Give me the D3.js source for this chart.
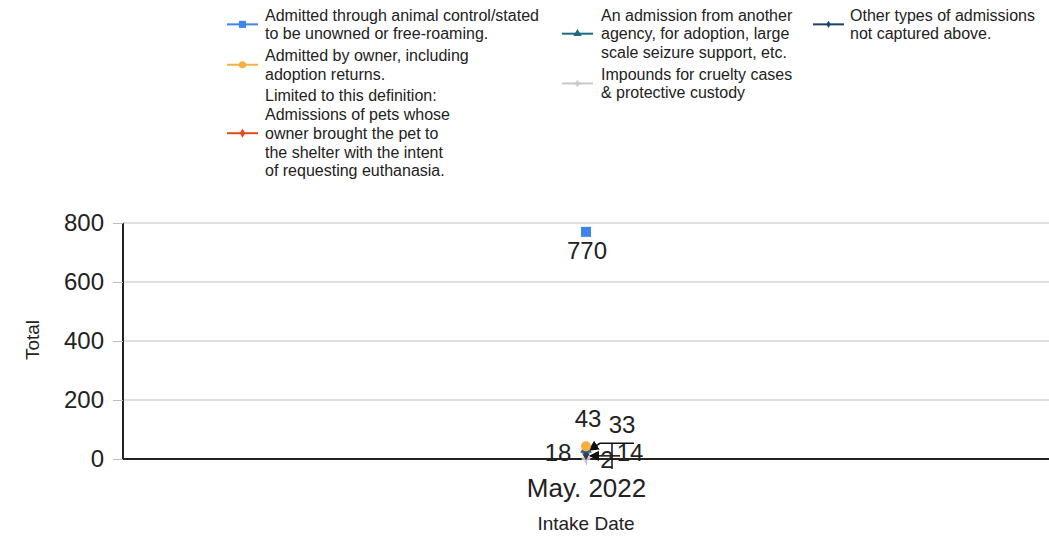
<!DOCTYPE html>
<html>
<head>
<meta charset="utf-8">
<script src="https://cdn.jsdelivr.net/npm/d3@7"></script>
<style>
  body { margin: 0; background: #fff; }
  text { font-family: "Liberation Sans", Arial, sans-serif; fill: #222; }
</style>
</head>
<body>
<div id="chart"></div>
<script>
// data
var categories = ["May. 2022"];
var seriesNames = [
  ["Admitted through animal control/stated", "to be unowned or free-roaming."],
  ["Admitted by owner, including", "adoption returns."],
  ["Limited to this definition:", "Admissions of pets whose", "owner brought the pet to", "the shelter with the intent", "of requesting euthanasia."],
  ["An admission from another", "agency, for adoption, large", "scale seizure support, etc."],
  ["Impounds for cruelty cases", "& protective custody"],
  ["Other types of admissions", "not captured above."]
];
var seriesValues = [770, 43, 18, 33, 2, 14];
var yTicks = [0, 200, 400, 600, 800];

// styles
var colors = ["#3d85e6", "#f5b040", "#e8461c", "#1a6a80", "#c8c8c8", "#1c3f6e"];
var symbols = [d3.symbolSquare, d3.symbolCircle, d3.symbolDiamond, d3.symbolTriangle, d3.symbolCross, d3.symbolDiamond];
var symSizes = [100, 80, 50, 60, 40, 30];
// label offsets from the point (dx, dy)
var labelOff = [[1, 19], [2, -28], [-28, -1], [36, -25], [21, 1], [44, -2]];
var legendCols = [[0, 1, 2], [3, 4], [5]];
var legendX = [[227, 265], [562, 601], [813, 850]];

var width = 1049, height = 541;
var svg = d3.select("#chart").append("svg")
    .attr("width", width)
    .attr("height", height);

var x = d3.scalePoint().domain(categories).range([123, 1049]).padding(0.5);
var y = d3.scaleLinear().domain([0, 800]).range([459, 223]);

// grid
svg.append("g").selectAll("line")
  .data(yTicks.slice(1))
  .enter().append("line")
    .attr("x1", 123).attr("x2", width)
    .attr("y1", function(d) { return y(d) }).attr("y2", function(d) { return y(d) })
    .attr("stroke", "#e0e0e0").attr("stroke-width", 2);

// y axis
var yAxis = svg.append("g")
    .attr("transform", "translate(123,0)")
    .call(d3.axisLeft(y).tickValues(yTicks).tickSize(10).tickPadding(9));
yAxis.select(".domain").attr("stroke", "#222").attr("stroke-width", 2).attr("d", "M0," + y(800) + "V" + y(0));
yAxis.selectAll(".tick line").attr("stroke", "#bbb");
yAxis.selectAll(".tick text").style("font-size", "24px").attr("fill", "#222")
    .style("font-family", "'Liberation Sans', Arial, sans-serif");

// x axis
var xAxis = svg.append("g")
    .attr("transform", "translate(0," + y(0) + ")")
    .call(d3.axisBottom(x).tickSize(6).tickPadding(14));
xAxis.select(".domain").attr("stroke", "#222").attr("stroke-width", 2).attr("d", "M123,0H" + width);
xAxis.selectAll(".tick line").attr("stroke", "#bbb");
xAxis.selectAll(".tick text").style("font-size", "26px").attr("fill", "#222")
    .style("font-family", "'Liberation Sans', Arial, sans-serif");

// axis titles
svg.append("text")
    .attr("transform", "translate(39,340) rotate(-90)")
    .attr("text-anchor", "middle")
    .style("font-size", "19px")
    .text("Total");
svg.append("text")
    .attr("x", x(categories[0])).attr("y", 530)
    .attr("text-anchor", "middle")
    .style("font-size", "19px")
    .text("Intake Date");

// leader lines for the crowded labels
svg.append("defs").append("marker")
    .attr("id", "arr").attr("viewBox", "0 0 10 10")
    .attr("refX", 9).attr("refY", 5)
    .attr("markerWidth", 7).attr("markerHeight", 7)
    .attr("orient", "auto")
  .append("path").attr("d", "M0,0L10,5L0,10z").attr("fill", "#111");

var cx = x(categories[0]);
var leaders = [
  [[cx + 48, y(33) - 6], [cx + 14, y(33) - 6], [cx + 3, y(33) + 1]],
  [[cx + 26, y(33) - 6], [cx + 26, y(0) + 10]],
  [[cx + 34, y(14) + 1], [cx + 4, y(14) + 1]]
];
svg.append("g").selectAll("path")
  .data(leaders)
  .enter().append("path")
    .attr("d", function(d) { return d3.line()(d) })
    .attr("fill", "none").attr("stroke", "#111").attr("stroke-width", 1.5)
    .attr("marker-end", function(d, i) { return i === 1 ? null : "url(#arr)" });

// points
var drawOrder = [4, 2, 5, 3, 1, 0];
svg.append("g").selectAll("path")
  .data(drawOrder)
  .enter().append("path")
    .attr("transform", function(i) { return "translate(" + cx + "," + y(seriesValues[i]) + ")" })
    .attr("d", function(i) { return d3.symbol().type(symbols[i]).size(symSizes[i])() })
    .attr("fill", function(i) { return colors[i] });

// value labels
svg.append("g").selectAll("text")
  .data(seriesValues)
  .enter().append("text")
    .attr("x", function(d, i) { return cx + labelOff[i][0] })
    .attr("y", function(d, i) { return y(d) + labelOff[i][1] })
    .attr("dy", "0.35em")
    .attr("text-anchor", "middle")
    .style("font-size", "24px")
    .text(function(d) { return d });

// legend
var lineH = 18.7;
legendCols.forEach(function(col, c) {
  var top = 15;
  col.forEach(function(si) {
    var lines = seriesNames[si];
    var g = svg.append("g");
    var mid = top + (lines.length - 1) * lineH / 2;
    g.append("line")
      .attr("x1", legendX[c][0]).attr("x2", legendX[c][0] + 31)
      .attr("y1", mid).attr("y2", mid)
      .attr("stroke", colors[si]).attr("stroke-width", 2);
    g.append("path")
      .attr("transform", "translate(" + (legendX[c][0] + 15.5) + "," + mid + ")")
      .attr("d", d3.symbol().type(symbols[si]).size(symSizes[si] * 0.5)())
      .attr("fill", colors[si]);
    g.selectAll("text")
      .data(lines)
      .enter().append("text")
        .attr("x", legendX[c][1])
        .attr("y", function(d, k) { return top + k * lineH })
        .attr("dy", "0.35em")
        .style("font-size", "16px")
        .text(function(d) { return d });
    top += lines.length * lineH + 3;
  });
});
</script>
</body>
</html>
